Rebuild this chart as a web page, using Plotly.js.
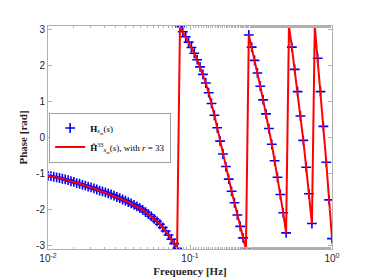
<!DOCTYPE html>
<html>
<head>
<meta charset="utf-8">
<script src="https://cdn.plot.ly/plotly-3.0.1.min.js"></script>
<style>html,body{margin:0;padding:0;background:#fff;}#chart{width:374px;height:280px;}</style>
</head>
<body>
<div id="chart"></div>
<script>
// Frequency grid [Hz] (log-spaced)
var freq = [
0.010000,0.010476,0.010975,0.011498,0.012045,0.012619,0.013219,0.013849,0.014508,0.015199,
0.015923,0.016681,0.017475,0.018307,0.019179,0.020092,0.021049,0.022051,0.023101,0.024201,
0.025354,0.026561,0.027826,0.029151,0.030539,0.031993,0.033516,0.035112,0.036784,0.038535,
0.040370,0.042292,0.044306,0.046416,0.048626,0.050941,0.053367,0.055908,0.058570,0.061359,
0.064281,0.067342,0.070548,0.073907,0.077426,0.081113,0.084975,0.089022,0.093260,0.097701,
0.10235,0.10723,0.11233,0.11768,0.12328,0.12915,0.13530,0.14175,0.14850,0.15557,
0.16298,0.17074,0.17886,0.18738,0.19630,0.20565,0.21544,0.22570,0.23645,0.24771,
0.25950,0.27186,0.28480,0.29836,0.31257,0.32745,0.34305,0.35938,0.37649,0.39442,
0.41320,0.43288,0.45349,0.47508,0.49770,0.52140,0.54623,0.57224,0.59948,0.62803,
0.65793,0.68926,0.72208,0.75646,0.79248,0.83022,0.86975,0.91116,0.95455,1.0000
];
// Phase of H (blue markers) [rad]
var phaseFull = [
-1.07,-1.08,-1.10,-1.11,-1.13,-1.15,-1.17,-1.19,-1.22,-1.24,
-1.27,-1.29,-1.32,-1.34,-1.37,-1.39,-1.42,-1.45,-1.48,-1.50,
-1.53,-1.56,-1.59,-1.62,-1.66,-1.69,-1.73,-1.76,-1.80,-1.84,
-1.88,-1.92,-1.97,-2.02,-2.08,-2.14,-2.20,-2.27,-2.34,-2.42,
-2.51,-2.61,-2.72,-2.84,-2.96,-3.09,
3.09,2.95,2.81,2.66,2.51,2.35,2.17,1.97,1.76,1.52,1.25,0.95,
0.62,0.27,-0.10,-0.46,-0.81,-1.16,-1.50,-1.82,-2.16,-2.48,-2.80,-3.11,
2.86,2.52,2.15,1.80,1.43,1.05,0.66,0.25,-0.19,-0.65,-1.11,-1.59,-2.10,-2.66,
3.12,2.52,1.90,1.28,0.60,-0.08,-0.83,-1.57,-2.40,
3.10,2.21,1.28,0.31,-0.69,-1.74,-2.82
];
// Phase of reduced model (red line) [rad] - visually identical
var phaseReduced = phaseFull.slice();

var yTicks = [-3,-2,-1,0,1,2,3];
var xTicks = [0.01, 0.1, 1];
var xTickText = ['10<sup>-2</sup>','10<sup>-1</sup>','10<sup>0</sup>'];
var labelFull = '<b>H</b><sub><i>x</i><sub>m</sub></sub>(<i>s</i>)';
var labelRed = '<b>Ĥ</b><sup>33</sup><sub><i>x</i><sub>m</sub></sub>(<i>s</i>), with <i>r</i> = 33';

var tickFont = {family:'Liberation Sans, Arial, sans-serif', size:10, color:'#262626'};
var titleFont = {family:'Liberation Serif, Times New Roman, serif', size:11, color:'#262626'};

var traces = [
  {x:freq, y:phaseFull, type:'scatter', mode:'markers', name:labelFull,
   marker:{symbol:'cross-thin', size:7, color:'#0000ff', line:{color:'#0000ff', width:1.6}}},
  {x:freq, y:phaseReduced, type:'scatter', mode:'lines', name:labelRed,
   line:{color:'#ff0000', width:2}}
];

var layout = {
  width:374, height:280,
  margin:{l:48, r:42, t:26, b:31, pad:0},
  paper_bgcolor:'#ffffff', plot_bgcolor:'#ffffff',
  showlegend:true,
  legend:{x:0.004, y:0.50, xanchor:'left', yanchor:'middle',
    bgcolor:'#ffffff', bordercolor:'#a0a0a0', borderwidth:1,
    font:{family:'Liberation Serif, Times New Roman, serif', size:9, color:'#000'},
    tracegroupgap:0, itemwidth:30},
  xaxis:{type:'log', range:[-2,0], tickvals:xTicks, ticktext:xTickText,
    showgrid:false, zeroline:false, showline:true, mirror:'allticks',
    linecolor:'#b0b0b0', linewidth:1, ticks:'inside', ticklen:4, tickcolor:'#b0b0b0',
    minor:{ticks:'inside', ticklen:2, tickcolor:'#b0b0b0', showgrid:false},
    tickfont:tickFont,
    title:{text:'<b>Frequency [Hz]</b>', font:titleFont, standoff:4}},
  yaxis:{range:[-3.11,3.11], tickvals:yTicks, ticktext:yTicks.map(String),
    showgrid:false, zeroline:false, showline:true, mirror:'allticks',
    linecolor:'#b0b0b0', linewidth:1, ticks:'inside', ticklen:4, tickcolor:'#b0b0b0',
    tickfont:tickFont,
    title:{text:'<b>Phase [rad]</b>', font:titleFont, standoff:6}}
};

Plotly.newPlot('chart', traces, layout, {staticPlot:true, displayModeBar:false});
</script>
</body>
</html>
